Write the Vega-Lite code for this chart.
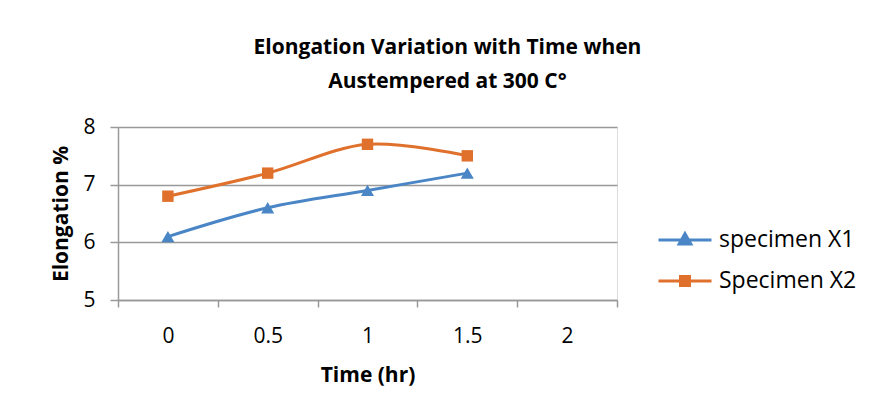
{
  "$schema": "https://vega.github.io/schema/vega-lite/v6.json",
  "autosize": "none",
  "padding": {"left": 118, "top": 127, "right": 253, "bottom": 119},
  "width": 499,
  "height": 173,
  "background": "white",
  "title": {
    "text": ["Elongation Variation with Time when", "Austempered at 300 C°"],
    "font": "Open Sans",
    "fontSize": 21,
    "fontWeight": "bold",
    "color": "#000000",
    "anchor": "middle",
    "frame": "group",
    "dx": 80,
    "offset": 24,
    "lineHeight": 34
  },
  "data": {
    "values": [
      {"time": 0, "elong": 6.1, "series": "specimen X1"},
      {"time": 0.5, "elong": 6.6, "series": "specimen X1"},
      {"time": 1, "elong": 6.9, "series": "specimen X1"},
      {"time": 1.5, "elong": 7.2, "series": "specimen X1"},
      {"time": 0, "elong": 6.8, "series": "Specimen X2"},
      {"time": 0.5, "elong": 7.2, "series": "Specimen X2"},
      {"time": 1, "elong": 7.7, "series": "Specimen X2"},
      {"time": 1.5, "elong": 7.5, "series": "Specimen X2"}
    ]
  },
  "encoding": {
    "x": {
      "field": "time",
      "type": "quantitative",
      "scale": {"domain": [-0.25, 2.25], "nice": false, "zero": false},
      "axis": {
        "title": "Time (hr)",
        "values": [-0.25, 0, 0.25, 0.5, 0.75, 1, 1.25, 1.5, 1.75, 2, 2.25],
        "format": "~g",
        "labelExpr": "(datum.value * 4) % 2 == 0 ? datum.label : ''",
        "tickOpacity": {"condition": {"test": "(datum.value * 4) % 2 != 0", "value": 1}, "value": 0},
        "grid": false,
        "domainColor": "#999999",
        "tickColor": "#999999",
        "tickSize": 7,
        "domainWidth": 1.5,
        "tickWidth": 1.5,
        "labelFont": "Open Sans",
        "labelFontSize": 21,
        "labelColor": "#000000",
        "labelPadding": 18,
        "labelFlush": false,
        "titleFont": "Open Sans",
        "titleFontSize": 21,
        "titleFontWeight": "bold",
        "titleColor": "#000000",
        "titlePadding": 18
      }
    },
    "y": {
      "field": "elong",
      "type": "quantitative",
      "scale": {"domain": [5, 8], "nice": false, "zero": false},
      "axis": {
        "title": "Elongation %",
        "values": [5, 6, 7, 8],
        "grid": true,
        "gridColor": "#999999",
        "gridWidth": 1.5,
        "domainColor": "#999999",
        "domainWidth": 1.5,
        "tickColor": "#999999",
        "tickWidth": 1.5,
        "tickSize": 8,
        "labelFont": "Open Sans",
        "labelFontSize": 21,
        "labelColor": "#000000",
        "labelPadding": 15,
        "labelFlush": false,
        "titleFont": "Open Sans",
        "titleFontSize": 21,
        "titleFontWeight": "bold",
        "titleColor": "#000000",
        "titlePadding": 11
      }
    }
  },
  "layer": [
    {
      "mark": {"type": "line", "interpolate": "catmull-rom", "strokeWidth": 3},
      "encoding": {
        "color": {
          "field": "series",
          "type": "nominal",
          "scale": {"domain": ["specimen X1", "Specimen X2"], "range": ["#4A86C6", "#E0712C"]},
          "legend": {
            "title": null,
            "orient": "none",
            "legendX": 539,
            "legendY": 85,
            "rowPadding": 1,
            "symbolSize": 2809,
            "symbolStrokeWidth": 3,
            "labelFont": "Open Sans",
            "labelFontSize": 23,
            "labelColor": "#000000",
            "labelOffset": 6,
            "encode": {
              "symbols": {
                "update": {
                  "shape": {"signal": "datum.value == 'specimen X1' ? 'M-1,0L1,0M0,-0.24L0.22,0.15L-0.22,0.15Z' : 'M-1,0L1,0M-0.17,-0.17L0.17,-0.17L0.17,0.17L-0.17,0.17Z'"},
                  "fill": {"signal": "datum.value == 'specimen X1' ? '#4A86C6' : '#E0712C'"},
                  "stroke": {"signal": "datum.value == 'specimen X1' ? '#4A86C6' : '#E0712C'"},
                  "fillOpacity": {"value": 1},
                  "strokeWidth": {"value": 3}
                }
              }
            }
          }
        }
      }
    },
    {
      "transform": [{"filter": "datum.series == 'specimen X1'"}],
      "mark": {"type": "point", "shape": "triangle-up", "filled": true, "opacity": 1, "size": 170, "color": "#4A86C6"}
    },
    {
      "transform": [{"filter": "datum.series == 'Specimen X2'"}],
      "mark": {"type": "point", "shape": "square", "filled": true, "opacity": 1, "size": 130, "color": "#E0712C"}
    }
  ]
}
